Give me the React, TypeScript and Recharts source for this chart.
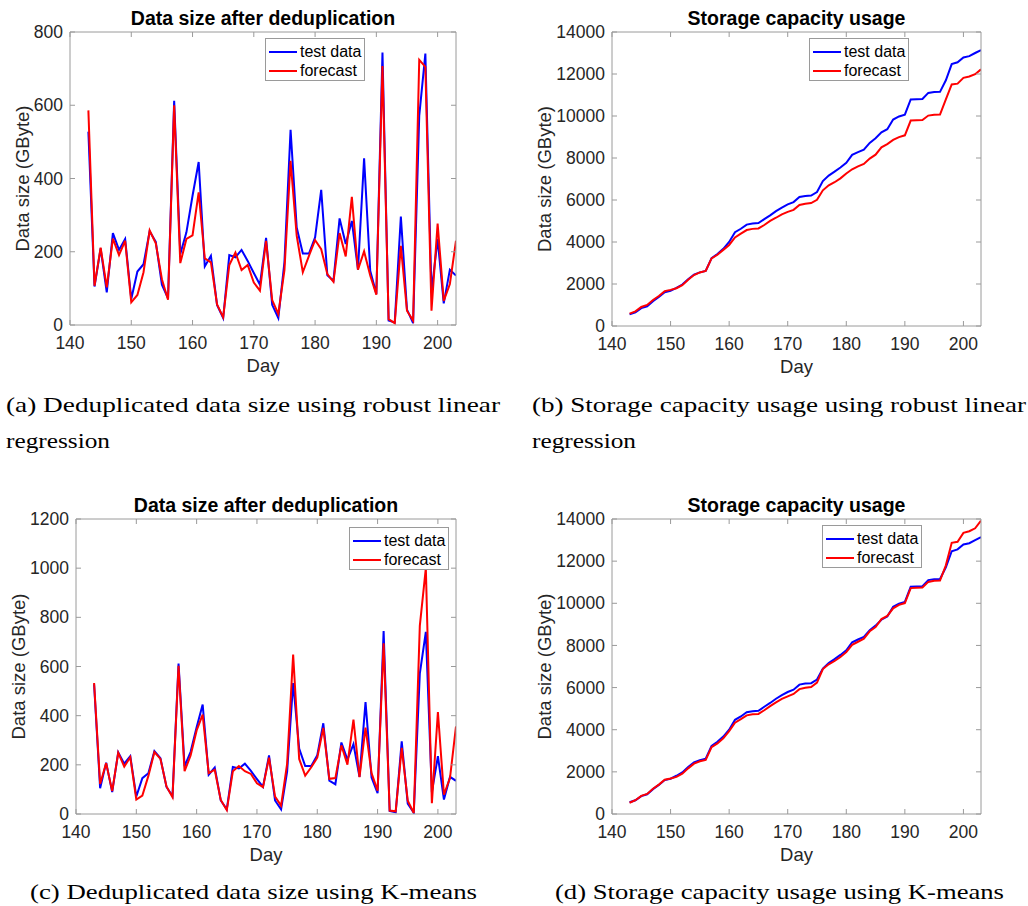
import React from 'react';
import { LineChart, Line, XAxis, YAxis, Legend } from 'recharts';

// ---- data -------------------------------------------------------------

const DAYS = [
  143, 144, 145, 146, 147, 148, 149, 150, 151, 152, 153, 154, 155, 156, 157, 158, 159, 160, 161, 162,
  163, 164, 165, 166, 167, 168, 169, 170, 171, 172, 173, 174, 175, 176, 177, 178, 179, 180, 181, 182,
  183, 184, 185, 186, 187, 188, 189, 190, 191, 192, 193, 194, 195, 196, 197, 198, 199, 200, 201, 202, 203,
];

const X_TICKS = [140, 150, 160, 170, 180, 190, 200];
const DAILY_TICKS_A = [0, 200, 400, 600, 800];
const DAILY_TICKS_C = [0, 200, 400, 600, 800, 1000, 1200];
const STORAGE_TICKS = [0, 2000, 4000, 6000, 8000, 10000, 12000, 14000];

// measured daily deduplicated size (GByte)
const testDaily = [
  528, 105, 209, 89, 251, 205, 235, 71, 146, 166, 256, 227, 110, 73, 612, 194, 253, 353, 445, 160,
  189, 55, 19, 191, 185, 205, 175, 142, 110, 238, 55, 19, 172, 533, 266, 195, 195, 239, 369, 136,
  121, 291, 221, 284, 151, 455, 148, 85, 744, 12, 7, 296, 42, 5, 571, 741, 89, 235, 59, 151, 135,
];

// robust linear regression forecast of the daily size
const robustDaily = [
  586, 107, 211, 103, 236, 191, 230, 62, 82, 144, 258, 223, 125, 69, 600, 169, 235, 245, 362, 182,
  171, 56, 21, 164, 198, 150, 164, 116, 94, 230, 68, 30, 150, 448, 244, 144, 189, 232, 207, 139,
  118, 251, 187, 350, 151, 201, 135, 83, 707, 16, 5, 216, 39, 12, 724, 705, 39, 277, 66, 112, 230,
];

// K-means forecast of the daily size
const kmeansDaily = [
  533, 122, 207, 93, 249, 193, 231, 59, 75, 155, 252, 224, 112, 68, 603, 174, 238, 340, 404, 166,
  180, 57, 16, 174, 195, 174, 163, 125, 109, 229, 71, 34, 204, 649, 224, 156, 190, 229, 350, 143,
  146, 279, 201, 384, 150, 351, 166, 95, 694, 14, 11, 269, 54, 4, 765, 1000, 44, 415, 79, 146, 356,
];

// storage capacity in use (GByte)
const testStorage = [
  555, 650, 850, 935, 1180, 1380, 1610, 1675, 1815, 1975, 2225, 2450, 2555, 2625, 3235, 3425, 3675, 4000, 4470, 4630,
  4830, 4880, 4900, 5090, 5270, 5470, 5640, 5790, 5900, 6140, 6190, 6210, 6380, 6900, 7160, 7350, 7550, 7770, 8150, 8280,
  8400, 8720, 8940, 9220, 9370, 9830, 9980, 10065, 10790, 10800, 10810, 11100, 11140, 11150, 11700, 12470, 12560, 12790, 12850, 13000, 13140,
];

const robustStorage = [
  590, 695, 905, 1005, 1240, 1430, 1660, 1720, 1800, 1945, 2205, 2425, 2550, 2620, 3220, 3390, 3625, 3860, 4220, 4400,
  4570, 4625, 4645, 4810, 5005, 5155, 5320, 5435, 5530, 5760, 5825, 5855, 6010, 6460, 6700, 6845, 7030, 7260, 7465, 7605,
  7720, 7970, 8160, 8510, 8660, 8860, 8995, 9080, 9785, 9800, 9805, 10020, 10060, 10070, 10795, 11500, 11540, 11815, 11880, 11990, 12220,
];

const kmeansStorage = [
  535, 655, 862, 955, 1200, 1395, 1625, 1685, 1760, 1915, 2165, 2390, 2500, 2570, 3175, 3350, 3590, 3930, 4335, 4500,
  4680, 4735, 4750, 4925, 5120, 5295, 5460, 5585, 5695, 5925, 5995, 6030, 6235, 6880, 7105, 7260, 7450, 7680, 8030, 8175,
  8320, 8670, 8870, 9250, 9400, 9760, 9925, 10010, 10720, 10735, 10745, 11015, 11070, 11080, 11800, 12870, 12920, 13340, 13420, 13560, 13920,
];

// ---- styling ------------------------------------------------------------

const PAGE_W = 1028;
const PAGE_H = 906;
const SANS = '"Liberation Sans", Arial, Helvetica, sans-serif';
const SERIF = '"Liberation Serif", "Times New Roman", serif';
const INK = '#262626';
const BOX = '#9a9a9a';
const TEST_COLOR = '#0000ff';
const FORECAST_COLOR = '#ff0000';
const Y_W = 60;
const X_H = 30;
const TICK_FONT = 17.5;

const SERIES = [
  { key: 'test', name: 'test data', color: TEST_COLOR },
  { key: 'forecast', name: 'forecast', color: FORECAST_COLOR },
];

type PanelSpec = {
  id: string;
  L: number; T: number; R: number; B: number;
  yMax: number;
  yTicks: number[];
  test: number[];
  forecast: number[];
  legendX: number;
  legendY: number;
  title: string;
  yLabelX: number;
};

const PANELS: PanelSpec[] = [
  {
    id: 'a', L: 70, T: 32, R: 456, B: 325, yMax: 800, yTicks: DAILY_TICKS_A,
    test: testDaily, forecast: robustDaily, legendX: 265, legendY: 38,
    title: 'Data size after deduplication', yLabelX: 29,
  },
  {
    id: 'b', L: 612, T: 32, R: 981, B: 326, yMax: 14000, yTicks: STORAGE_TICKS,
    test: testStorage, forecast: robustStorage, legendX: 809, legendY: 38,
    title: 'Storage capacity usage', yLabelX: 551,
  },
  {
    id: 'c', L: 76, T: 519, R: 456, B: 814, yMax: 1200, yTicks: DAILY_TICKS_C,
    test: testDaily, forecast: kmeansDaily, legendX: 349, legendY: 527,
    title: 'Data size after deduplication', yLabelX: 25,
  },
  {
    id: 'd', L: 612, T: 519, R: 981, B: 814, yMax: 14000, yTicks: STORAGE_TICKS,
    test: testStorage, forecast: kmeansStorage, legendX: 822, legendY: 525,
    title: 'Storage capacity usage', yLabelX: 551,
  },
];

const CAPTIONS = [
  { text: '(a) Deduplicated data size using robust linear', x: 6, y: 412, w: 494 },
  { text: 'regression', x: 6, y: 448, w: 104 },
  { text: '(b) Storage capacity usage using robust linear', x: 532, y: 412, w: 494 },
  { text: 'regression', x: 532, y: 448, w: 104 },
  { text: '(c) Deduplicated data size using K-means', x: 30, y: 899, w: 447 },
  { text: '(d) Storage capacity usage using K-means', x: 555, y: 899, w: 449 },
];

// ---- axis ticks (MATLAB style: ticks point inwards) ----------------------

const BottomTick = (props: any) => {
  const { x, y, payload } = props;
  return (
    <g>
      <line x1={x} x2={x} y1={y} y2={y - 5} stroke={BOX} strokeWidth={1} />
      <text x={x} y={y + 23.5} textAnchor="middle" fill={INK} fontSize={TICK_FONT} fontFamily={SANS}>
        {payload.value}
      </text>
    </g>
  );
};

const LeftTick = (props: any) => {
  const { x, y, payload } = props;
  return (
    <g>
      <line x1={x} x2={x + 5} y1={y} y2={y} stroke={BOX} strokeWidth={1} />
      <text x={x - 7} y={y} dy="0.35em" textAnchor="end" fill={INK} fontSize={TICK_FONT} fontFamily={SANS}>
        {payload.value}
      </text>
    </g>
  );
};

const NoLabel = () => <g />;

const LegendBox = () => (
  <div
    style={{
      position: 'relative',
      width: 100,
      height: 43,
      boxSizing: 'border-box',
      border: `1px solid ${BOX}`,
      background: '#fff',
      fontFamily: SANS,
      fontSize: 16,
      color: '#000',
      lineHeight: '19px',
    }}
  >
    {SERIES.map((s, i) => (
      <div
        key={s.key}
        style={{ position: 'absolute', left: 3, top: 3 + i * 19, height: 19, display: 'flex', alignItems: 'center', whiteSpace: 'nowrap' }}
      >
        <span style={{ display: 'inline-block', width: 28, height: 2, background: s.color, marginRight: 3 }} />
        <span>{s.name}</span>
      </div>
    ))}
  </div>
);

function Panel({ p }: { p: PanelSpec }) {
  const data = DAYS.map((d, i) => ({ day: d, test: p.test[i], forecast: p.forecast[i] }));
  return (
    <div style={{ position: 'absolute', left: 0, top: 0 }}>
      <LineChart
        width={PAGE_W}
        height={PAGE_H}
        data={data}
        margin={{ top: p.T, left: p.L - Y_W, right: PAGE_W - p.R, bottom: PAGE_H - p.B - X_H }}
      >
        <XAxis
          xAxisId="bottom"
          dataKey="day"
          type="number"
          domain={[140, 203]}
          ticks={X_TICKS}
          interval={0}
          allowDataOverflow
          height={X_H}
          tickSize={0}
          tickMargin={0}
          tickLine={false}
          axisLine={{ stroke: BOX }}
          tick={(props: any) => <BottomTick {...props} />}
        />
        <XAxis
          xAxisId="top"
          dataKey="day"
          orientation="top"
          mirror
          type="number"
          domain={[140, 203]}
          ticks={X_TICKS}
          interval={0}
          allowDataOverflow
          height={X_H}
          tickSize={5}
          tickLine={{ stroke: BOX }}
          axisLine={{ stroke: BOX }}
          tick={NoLabel}
        />
        <YAxis
          yAxisId="left"
          type="number"
          domain={[0, p.yMax]}
          ticks={p.yTicks}
          interval={0}
          allowDataOverflow
          width={Y_W}
          tickSize={0}
          tickMargin={0}
          tickLine={false}
          axisLine={{ stroke: BOX }}
          tick={(props: any) => <LeftTick {...props} />}
        />
        <YAxis
          yAxisId="right"
          orientation="right"
          mirror
          type="number"
          domain={[0, p.yMax]}
          ticks={p.yTicks}
          interval={0}
          allowDataOverflow
          width={Y_W}
          tickSize={5}
          tickLine={{ stroke: BOX }}
          axisLine={{ stroke: BOX }}
          tick={NoLabel}
        />
        <Line
          xAxisId="bottom"
          yAxisId="left"
          type="linear"
          dataKey="test"
          name="test data"
          stroke={TEST_COLOR}
          strokeWidth={2}
          dot={false}
          isAnimationActive={false}
        />
        <Line
          xAxisId="bottom"
          yAxisId="left"
          type="linear"
          dataKey="forecast"
          name="forecast"
          stroke={FORECAST_COLOR}
          strokeWidth={2}
          dot={false}
          isAnimationActive={false}
        />
        <Legend
          layout="vertical"
          align="center"
          verticalAlign="middle"
          content={() => <LegendBox />}
          wrapperStyle={{ left: p.legendX, top: p.legendY, width: 100, height: 43 }}
        />
      </LineChart>
    </div>
  );
}

function Annotations() {
  return (
    <svg width={PAGE_W} height={PAGE_H} style={{ position: 'absolute', left: 0, top: 0, pointerEvents: 'none' }}>
      {PANELS.map((p) => {
        const cx = (p.L + p.R) / 2;
        const cy = (p.T + p.B) / 2;
        return (
          <g key={p.id}>
            <text x={cx} y={p.T - 7} textAnchor="middle" fontFamily={SANS} fontWeight="bold" fontSize={19.5} fill="#000">
              {p.title}
            </text>
            <text x={cx} y={p.B + 46.5} textAnchor="middle" fontFamily={SANS} fontSize={18.5} fill={INK}>
              Day
            </text>
            <text
              x={p.yLabelX}
              y={cy}
              transform={`rotate(-90 ${p.yLabelX} ${cy})`}
              textAnchor="middle"
              fontFamily={SANS}
              fontSize={18.5}
              fill={INK}
            >
              Data size (GByte)
            </text>
          </g>
        );
      })}
      {CAPTIONS.map((c, i) => (
        <text
          key={i}
          x={c.x}
          y={c.y}
          fontFamily={SERIF}
          fontSize={22}
          fill="#000"
          textLength={c.w}
          lengthAdjust="spacingAndGlyphs"
        >
          {c.text}
        </text>
      ))}
    </svg>
  );
}

export default function App() {
  return (
    <div style={{ position: 'absolute', left: 0, top: 0, width: PAGE_W, height: PAGE_H, background: '#fff', overflow: 'hidden' }}>
      {PANELS.map((p) => (
        <Panel key={p.id} p={p} />
      ))}
      <Annotations />
    </div>
  );
}
